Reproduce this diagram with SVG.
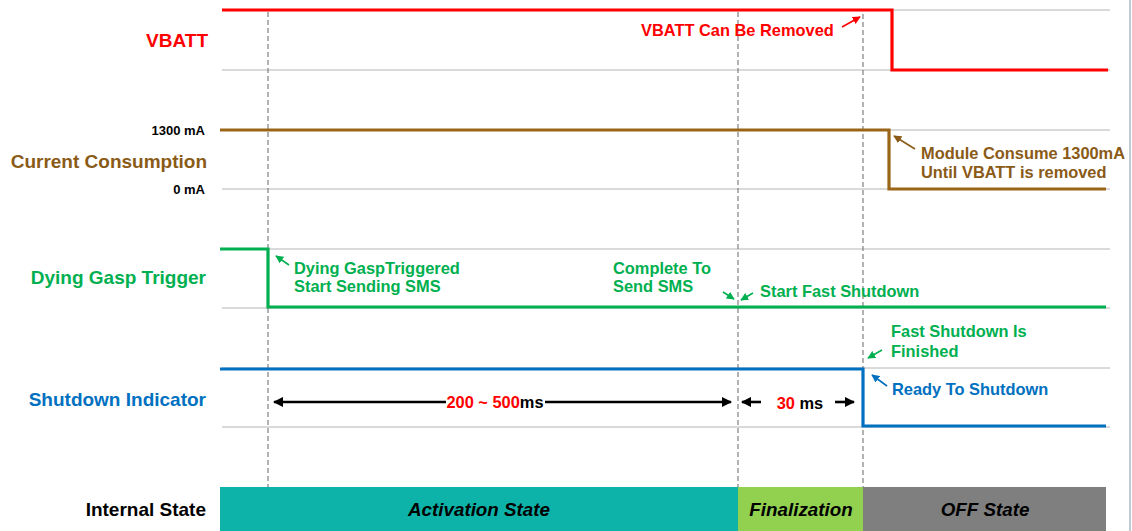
<svg xmlns="http://www.w3.org/2000/svg" width="1132" height="531" viewBox="0 0 1132 531">
<defs>
<marker id="ahr" viewBox="0 0 10 10" refX="9" refY="5" markerWidth="5" markerHeight="5" orient="auto" markerUnits="strokeWidth"><path d="M0,0 L10,5 L0,10 z" fill="#FF0000"/></marker>
<marker id="ahb" viewBox="0 0 10 10" refX="9" refY="5" markerWidth="5" markerHeight="5" orient="auto" markerUnits="strokeWidth"><path d="M0,0 L10,5 L0,10 z" fill="#8A5A17"/></marker>
<marker id="ahg" viewBox="0 0 10 10" refX="9" refY="5" markerWidth="5" markerHeight="5" orient="auto" markerUnits="strokeWidth"><path d="M0,0 L10,5 L0,10 z" fill="#00B050"/></marker>
<marker id="ahbl" viewBox="0 0 10 10" refX="9" refY="5" markerWidth="5" markerHeight="5" orient="auto" markerUnits="strokeWidth"><path d="M0,0 L10,5 L0,10 z" fill="#0070C0"/></marker>
<marker id="ahk" viewBox="0 0 10 10" refX="9" refY="5" markerWidth="4" markerHeight="4" orient="auto" markerUnits="strokeWidth"><path d="M0,0 L10,5 L0,10 z" fill="#000"/></marker>
</defs>
<style>
text{font-family:"Liberation Sans",Arial,sans-serif;font-weight:bold}
.grid{stroke:#B4B4B4;stroke-width:1;fill:none}
.vdash{stroke:#808080;stroke-width:1.2;stroke-dasharray:5,3;fill:none}
.sig{fill:none;stroke-width:3.2;stroke-linejoin:miter}
.lbl{font-size:19px;text-anchor:end}
.val{font-size:13px;text-anchor:end;fill:#000}
.ann{font-size:16.4px}
.st{font-size:18.8px;font-style:italic;text-anchor:middle;fill:#000}
.pt{stroke-width:1.6;fill:none}
</style>
<rect width="1132" height="531" fill="#fff"/>
<line x1="1130" y1="0" x2="1130" y2="531" stroke="#A8B8C8" stroke-width="1.5"/>

<g id="grid">
<line class="grid" x1="222" y1="10" x2="1110" y2="10"/>
<line class="grid" x1="222" y1="70" x2="1110" y2="70"/>
<line class="grid" x1="222" y1="130" x2="1110" y2="130"/>
<line class="grid" x1="222" y1="189" x2="1110" y2="189"/>
<line class="grid" x1="222" y1="249" x2="1110" y2="249"/>
<line class="grid" x1="222" y1="308" x2="1110" y2="308"/>
<line class="grid" x1="222" y1="368" x2="1110" y2="368"/>
<line class="grid" x1="222" y1="427" x2="1110" y2="427"/>
<line class="vdash" x1="268" y1="12" x2="268" y2="487"/>
<line class="vdash" x1="738" y1="12" x2="738" y2="487"/>
<line class="vdash" x1="863" y1="14" x2="863" y2="487"/>
</g>

<g id="vbatt">
<text class="lbl" x="208" y="47" fill="#FF0000">VBATT</text>
<polyline class="sig" stroke="#FF0000" points="222,10 892,10 892,70 1108,70"/>
</g>

<g id="current">
<text class="val" x="205" y="135">1300 mA</text>
<text class="lbl" x="207" y="168" fill="#8A5A17">Current Consumption</text>
<text class="val" x="205" y="194">0 mA</text>
<polyline class="sig" stroke="#9A6516" points="220,130 889,130 889,189 1106,189"/>
</g>

<g id="dying-gasp">
<text class="lbl" x="206" y="284" fill="#00B050">Dying Gasp Trigger</text>
<polyline class="sig" stroke="#00B050" points="220,249 268,249 268,307 1106,307"/>
</g>

<g id="shutdown">
<text class="lbl" x="206" y="406" fill="#0070C0">Shutdown Indicator</text>
<polyline class="sig" stroke="#0070C0" points="220,369 863,369 863,426 1106,426"/>
</g>

<g id="internal-state">
<text class="lbl" x="206" y="516" fill="#000">Internal State</text>
<rect x="220" y="487" width="518" height="44" fill="#0DB3A8"/>
<rect x="738" y="487" width="125" height="44" fill="#92D050"/>
<rect x="863" y="487" width="243" height="44" fill="#7F7F7F"/>
<text class="st" x="479" y="516">Activation State</text>
<text class="st" x="801" y="516">Finalization</text>
<text class="st" x="985" y="516">OFF State</text>
</g>

<g id="annotations">
<text class="ann" x="641" y="36" fill="#FF0000">VBATT Can Be Removed</text>
<text class="ann" x="921" y="159" fill="#8A5A17">Module Consume 1300mA</text>
<text class="ann" x="921" y="178" fill="#8A5A17">Until VBATT is removed</text>
<text class="ann" x="294" y="274" fill="#00B050">Dying GaspTriggered</text>
<text class="ann" x="294" y="292" fill="#00B050">Start Sending SMS</text>
<text class="ann" x="613" y="274" fill="#00B050">Complete To</text>
<text class="ann" x="613" y="292" fill="#00B050">Send SMS</text>
<text class="ann" x="760" y="297" fill="#00B050">Start Fast Shutdown</text>
<text class="ann" x="891" y="337" fill="#00B050">Fast Shutdown Is</text>
<text class="ann" x="891" y="357" fill="#00B050">Finished</text>
<text class="ann" x="892" y="395" fill="#0070C0">Ready To Shutdown</text>
<text class="ann" x="495" y="408" text-anchor="middle"><tspan fill="#FF0000">200 ~ 500</tspan><tspan fill="#000">ms</tspan></text>
<text class="ann" x="800" y="409" text-anchor="middle"><tspan fill="#FF0000">30</tspan><tspan fill="#000"> ms</tspan></text>
</g>

<g id="connectors">
<line class="pt" stroke="#FF0000" x1="842" y1="27" x2="860" y2="17" marker-end="url(#ahr)"/>
<line class="pt" stroke="#8A5A17" x1="915" y1="149" x2="894" y2="136" marker-end="url(#ahb)"/>
<line class="pt" stroke="#00B050" x1="289" y1="265" x2="276" y2="256" marker-end="url(#ahg)"/>
<line class="pt" stroke="#00B050" x1="723" y1="292" x2="734" y2="299" marker-end="url(#ahg)"/>
<line class="pt" stroke="#00B050" x1="753" y1="293" x2="741" y2="300" marker-end="url(#ahg)"/>
<line class="pt" stroke="#00B050" x1="882" y1="350" x2="868" y2="358" marker-end="url(#ahg)"/>
<line class="pt" stroke="#0070C0" x1="887" y1="386" x2="872" y2="375" marker-end="url(#ahbl)"/>
<line stroke="#000" stroke-width="2.6" x1="446" y1="402" x2="274" y2="402" marker-end="url(#ahk)"/>
<line stroke="#000" stroke-width="2.6" x1="545" y1="402" x2="731" y2="402" marker-end="url(#ahk)"/>
<line stroke="#000" stroke-width="2.6" x1="761" y1="402" x2="742" y2="402" marker-end="url(#ahk)"/>
<line stroke="#000" stroke-width="2.6" x1="835" y1="402" x2="854" y2="402" marker-end="url(#ahk)"/>
</g>
</svg>
